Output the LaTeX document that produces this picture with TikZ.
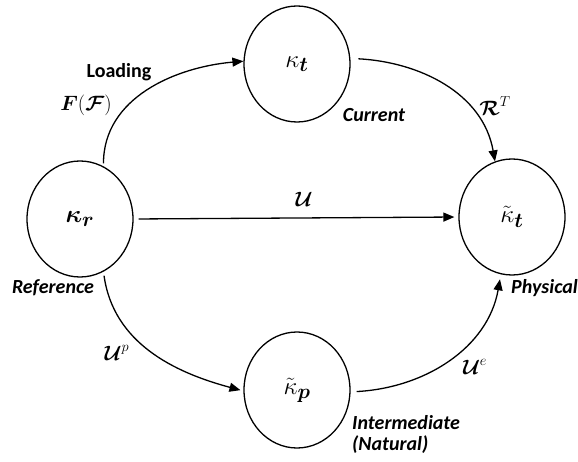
\documentclass[tikz,border=0pt]{standalone}
\usepackage{amsmath,bm}
\usepackage{fontspec}
\newfontfamily\lab{Carlito}
\usetikzlibrary{shapes.geometric,arrows.meta}
\begin{document}
\begin{tikzpicture}[x=1pt,y=-1pt,
  state/.style={draw,ellipse,line width=1.3pt,minimum width=106pt,minimum height=116pt,inner sep=0pt,font=\fontsize{24.88}{30}\selectfont},
  conn/.style={line width=1.3pt,-{Triangle[length=11pt,width=9pt]}},
  txt/.style={font=\lab\bfseries\itshape\fontsize{20}{21}\selectfont,inner sep=0pt},
  mth/.style={font=\huge,inner sep=0pt}]
\useasboundingbox (0,0) rectangle (578,462);
\node[state] (kr) at (80,219) {$\boldsymbol{\kappa}_{\boldsymbol{r}}$};
\node[state] (kt) at (297,64) {$\kappa_{\boldsymbol{t}}$};
\node[state] (ktt) at (512,217) {$\tilde{\kappa}_{\boldsymbol{t}}$};
\node[state] (kp) at (297,390) {$\tilde{\kappa}_{\boldsymbol{p}}$};

\draw[conn,shorten <=3pt] (kr.66) to[out=90,in=185] (kt.177);
\draw[conn,shorten <=8pt] (kt.6) to[out=-3,in=100] (ktt.107);
\draw[conn,shorten <=5pt,shorten >=4pt] (kr.east) -- (ktt.west);
\draw[conn,shorten <=4pt,shorten >=3pt] (kr.-66) to[out=-82,in=165] (kp.181);
\draw[conn,shorten <=6pt,shorten >=5pt] (kp.358) to[out=3,in=-100] (ktt.259);

\node[txt,font=\lab\bfseries\fontsize{20}{24}\selectfont] (lload) at (119,72) {Loading};
\node[mth] (lF) at (86,105) {$\boldsymbol{F}(\boldsymbol{\mathcal{F}})$};
\node[txt] (lcur) at (374,115) {Current};
\node[mth] (lR) at (495,106) {$\boldsymbol{\mathcal{R}}^{T}$};
\node[mth] (lU) at (304,199) {$\boldsymbol{\mathcal{U}}$};
\node[txt] (lref) at (53,288) {Reference};
\node[txt,anchor=west] (lphys) at (511,288) {Physical};
\node[mth] (lUp) at (117,353) {$\boldsymbol{\mathcal{U}}^{p}$};
\node[mth] (lUe) at (475,367) {$\boldsymbol{\mathcal{U}}^{e}$};
\node[txt,anchor=west,align=left] (linter) at (352,434) {Intermediate\\(Natural)};
\end{tikzpicture}
\end{document}
